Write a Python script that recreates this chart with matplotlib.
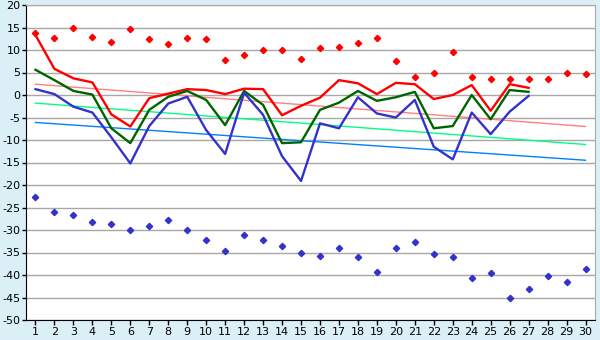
import matplotlib
matplotlib.use("Agg")
import matplotlib.pyplot as plt
import numpy as np

plt.rcParams["axes.unicode_minus"] = False

days = list(range(1, 31))

red_line = [13.3, 5.8, 3.7, 2.8, -4.3, -7.0, -0.7, 0.3, 1.3, 1.1, 0.2, 1.4, 1.3, -4.5,
            -2.4, -0.6, 3.3, 2.6, 0.2, 2.7, 2.4, -0.9, 0.0, 2.2, -3.5, 2.4, 1.6]
green_line = [5.6, 3.3, 0.9, 0.1, -7.4, -10.7, -3.3, -0.4, 0.9, -1.1, -6.7, 0.9, -2.2, -10.7,
              -10.5, -3.3, -1.7, 0.9, -1.3, -0.5, 0.7, -7.4, -6.9, 0.0, -5.4, 1.1, 0.7]
blue_line = [1.3, 0.2, -2.6, -3.9, -9.4, -15.2, -6.9, -1.9, -0.4, -7.8, -13.1, 0.5, -4.4, -13.6,
             -19.1, -6.3, -7.4, -0.5, -4.1, -5.0, -1.1, -11.5, -14.3, -3.9, -8.7, -3.7, -0.2]

red_points = [13.7, 12.6, 15.0, 12.8, 11.7, 14.6, 12.4, 11.3, 12.6, 12.4, 7.7, 9.0, 9.9, 10.1, 7.9,
              10.4, 10.6, 11.5, 12.6, 7.5, 4.1, 5.0, 9.5, 3.9, 3.5, 3.5, 3.5, 3.5, 4.9, 4.6]
blue_points = [-22.7, -25.9, -26.7, -28.3, -28.7, -30.1, -29.0, -27.8, -29.9, -32.3, -34.7, -31.0,
               -32.3, -33.6, -35.0, -35.8, -34.1, -36.1, -39.4, -34.1, -32.7, -35.4, -36.1, -40.7,
               -39.6, -45.2, -43.0, -40.3, -41.6, -38.7]

# trend lines: values at day 1 and day 30
trend_days = [1, 30]
trend_red = [2.4, -7.0]
trend_green = [-1.8, -11.0]
trend_blue = [-6.1, -14.5]

yticks = list(range(-50, 25, 5))

fig = plt.figure(figsize=(6, 3.4), dpi=100)
fig.patch.set_facecolor("#daeff6")
ax = fig.add_axes([26/600, 20/340, 569/600, 315/340])
ax.set_facecolor("white")

ax.plot(trend_days, trend_red, color="#ff8080", lw=1.0, zorder=2)
ax.plot(trend_days, trend_green, color="#00ff80", lw=1.0, zorder=2)
ax.plot(trend_days, trend_blue, color="#0080ff", lw=1.0, zorder=2)

n = len(red_line)
ax.plot(days[:n], red_line, color="#ff0000", lw=1.7, zorder=3)
ax.plot(days[:n], green_line, color="#006400", lw=1.7, zorder=3)
ax.plot(days[:n], blue_line, color="#3333cc", lw=1.7, zorder=3)

ax.plot(days, red_points, ls="none", marker="D", ms=3.2, color="#ff0000", mec="#ff0000", zorder=4)
ax.plot(days, blue_points, ls="none", marker="D", ms=3.2, color="#3333cc", mec="#3333cc", zorder=4)

ax.set_xlim(0.5, 30.5)
ax.set_ylim(-50, 20)
ax.set_yticks(yticks)
ax.set_xticks(days)
ax.yaxis.grid(True, color="#a8a8a8", lw=1.0)
ax.set_axisbelow(True)
ax.tick_params(axis="both", direction="out", length=3, width=1, labelsize=8, colors="black", pad=1)
ax.tick_params(axis="x", pad=1.5, length=3.5)
for s in ["top", "right"]:
    ax.spines[s].set_color("#a8a8a8")
for s in ["left", "bottom"]:
    ax.spines[s].set_color("black")

fig.savefig("out.png", dpi=100, facecolor=fig.get_facecolor())
